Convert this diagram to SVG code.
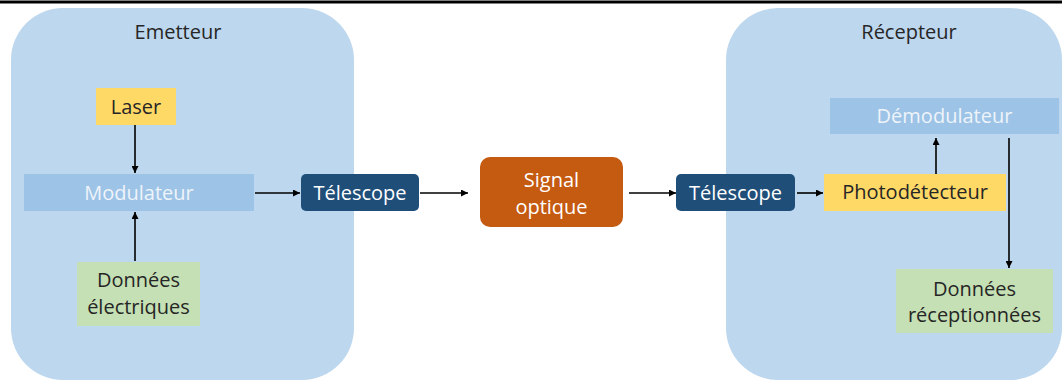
<svg xmlns="http://www.w3.org/2000/svg" width="1062" height="381" viewBox="0 0 1062 381">
<defs>
<style>
text{font-family:"Open Sans","Liberation Sans",sans-serif;font-size:20px;text-anchor:middle;fill:#262626}
.cont{fill:#BDD7EE}
.mod{fill:#9DC3E6}
.yel{fill:#FFD966}
.grn{fill:#C5E0B4}
.tel{fill:#1F4E79}
.sig{fill:#C55A11}
.wt{fill:#FFFFFF}
.lt{fill:#EEF4FA}
.conn line{stroke:#000;stroke-width:1.6;marker-end:url(#ah)}
</style>
<marker id="ah" viewBox="0 0 8 8" refX="8" refY="4" markerWidth="7" markerHeight="7" markerUnits="userSpaceOnUse" orient="auto">
<path d="M0,0 L8,4 L0,8 z" fill="#000"/>
</marker>
</defs>
<rect x="0" y="0" width="1062" height="381" fill="#fff"/>
<rect x="0" y="0.5" width="1062" height="3" fill="#000"/>
<g id="emetteur">
<rect class="cont" x="11" y="8" width="343" height="372" rx="52"/>
<text x="178" y="39">Emetteur</text>
</g>
<g id="recepteur">
<rect class="cont" x="726" y="8" width="336" height="372" rx="52"/>
<text x="909" y="39">Récepteur</text>
</g>
<g id="laser">
<rect class="yel" x="96" y="88" width="80" height="37"/>
<text x="136" y="114">Laser</text>
</g>
<g id="modulateur">
<rect class="mod" x="24" y="174" width="230" height="37"/>
<text class="lt" x="139" y="200">Modulateur</text>
</g>
<g id="donnees-electriques">
<rect class="grn" x="77" y="262" width="123" height="64"/>
<text x="138.5" y="287">Données</text>
<text x="138.5" y="314">électriques</text>
</g>
<g id="telescope1">
<rect class="tel" x="301" y="174" width="118" height="37" rx="5"/>
<text class="wt" x="360" y="200">Télescope</text>
</g>
<g id="signal">
<rect class="sig" x="480" y="157" width="143" height="70" rx="10"/>
<text class="wt" x="551.5" y="187">Signal</text>
<text class="wt" x="551.5" y="214">optique</text>
</g>
<g id="telescope2">
<rect class="tel" x="676" y="174" width="119" height="37" rx="5"/>
<text class="wt" x="735.5" y="200">Télescope</text>
</g>
<g id="photodetecteur">
<rect class="yel" x="824" y="174" width="182" height="37"/>
<text x="915" y="199">Photodétecteur</text>
</g>
<g id="demodulateur">
<rect class="mod" x="830" y="98" width="229" height="36"/>
<text class="lt" x="944.5" y="123">Démodulateur</text>
</g>
<g id="donnees-receptionnees">
<rect class="grn" x="896" y="269" width="157" height="64"/>
<text x="974.5" y="296">Données</text>
<text x="974.5" y="322">réceptionnées</text>
</g>
<g class="conn" id="connectors">
<line x1="135" y1="125" x2="135" y2="173"/>
<line x1="135" y1="261" x2="135" y2="212"/>
<line x1="255" y1="193" x2="300" y2="193"/>
<line x1="420" y1="193" x2="468" y2="193"/>
<line x1="629" y1="193" x2="676" y2="193"/>
<line x1="797" y1="193" x2="823" y2="193"/>
<line x1="936" y1="174" x2="936" y2="138"/>
<line x1="1009" y1="138" x2="1009" y2="268"/>
</g>
</svg>
